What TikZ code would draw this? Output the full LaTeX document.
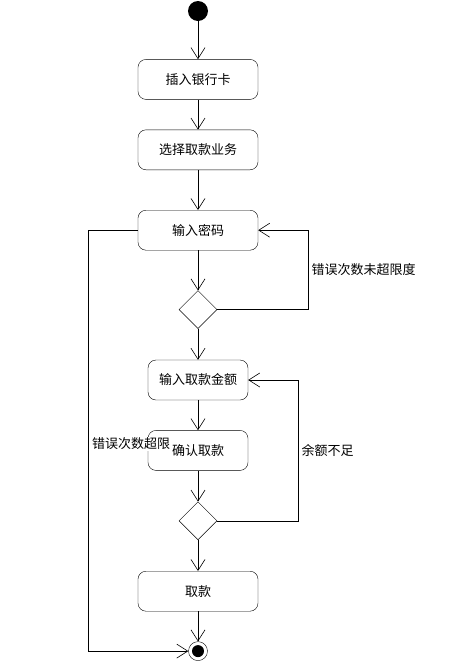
\documentclass[tikz,border=0pt]{standalone}
\usepackage{fontspec}
\setmainfont{Noto Sans CJK SC}
\usepackage{tikz}
\usetikzlibrary{shapes.geometric,arrows.meta,positioning,calc}

\begin{document}
\begin{tikzpicture}[
    x=1pt, y=1pt,
    font=\fontsize{13}{15}\selectfont,
    node distance=30pt,
    action/.style={rectangle, draw, rounded corners=8pt, minimum width=120pt, minimum height=40pt, inner sep=2pt},
    smallaction/.style={action, minimum width=100pt},
    decision/.style={diamond, draw, minimum width=38pt, minimum height=38pt, inner sep=0pt},
    startdot/.style={circle, fill=black, minimum size=20pt, inner sep=0pt},
    enddot/.style={circle, draw, fill=white, minimum size=19pt, inner sep=0pt},
    arrow/.style={-{Straight Barb[length=11pt, width=14pt]}, semithick},
    guard/.style={fill=white, inner sep=1pt}
]
\useasboundingbox (0,0) rectangle (448,-670);

% Start and the first steps
\node[startdot] (start) at (198,-11) {};
\node[action, below=38pt of start] (insert) {插入银行卡};
\node[action, below=of insert] (select) {选择取款业务};
\node[action, below=40pt of select] (pin) {输入密码};
\node[decision, below=40pt of pin] (pincheck) {};

% Withdrawal part
\node[smallaction, below=31pt of pincheck] (amount) {输入取款金额};
\node[smallaction, below=30pt of amount] (confirm) {确认取款};
\node[decision, below=31pt of confirm] (balcheck) {};
\node[action, below=31pt of balcheck] (take) {取款};
\node[enddot, below=30pt of take] (finish) {};
\fill (finish.center) circle (6);

% Main flow
\draw[arrow] (start) -- (insert);
\draw[arrow] (insert) -- (select);
\draw[arrow] (select) -- (pin);
\draw[arrow] (pin) -- (pincheck);
\draw[arrow] (pincheck) -- (amount);
\draw[arrow] (amount) -- (confirm);
\draw[arrow] (confirm) -- (balcheck);
\draw[arrow] (balcheck) -- (take);
\draw[arrow] (take) -- (finish);

% Loops back
\draw[arrow] (pincheck.east) -- ++(91,0) |- node[pos=0.25, right, inner sep=3pt] {错误次数未超限度} (pin.east);
\draw[arrow] (balcheck.east) -- ++(81,0) |- node[pos=0.25, right, inner sep=3pt] {余额不足} (amount.east);

% Too many wrong tries
\draw[arrow] (pin.west) -- ++(-50,0) |- (finish.west)
    node[guard, pos=0.254, right=3pt] {错误次数超限};

\end{tikzpicture}
\end{document}
